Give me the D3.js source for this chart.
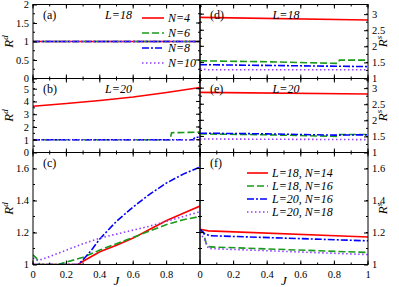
<!DOCTYPE html>
<html>
<head>
<meta charset="utf-8">
<script src="https://cdn.jsdelivr.net/npm/d3@7.9.0/dist/d3.min.js"></script>
<style>
  body { margin: 0; background: #fff; }
  text { font-family: "Liberation Serif", "DejaVu Serif", serif; }
</style>
</head>
<body>
<svg id="chart" width="399" height="287"></svg>
<script>
// series styles: N=4 / L=18,N=14 etc
const colors = ['#ff0000', '#1a9a1a', '#0000ff', '#8f3dff'];
const dashes = [null, '7,3', '7,2,2,2', '1.5,2.5'];

const legendA = ['N=4', 'N=6', 'N=8', 'N=10'];
const legendF = ['L=18, N=14', 'L=18, N=16', 'L=20, N=16', 'L=20, N=18'];

// panel (a) L=18
const aRed = [[0, 1], [1, 1]];
const aGreen = [[0, 1], [1, 1]];
const aBlue = [[0, 1], [1, 1]];
const aPurple = [[0, 1], [1, 1]];

// panel (b) L=20
const bRed = [[0, 3.62], [0.2, 3.84], [0.4, 4.08], [0.6, 4.35], [0.8, 4.7], [1, 5.1]];
const bGreen = [[0, 1], [0.82, 1], [0.83, 1.55], [1, 1.6]];
const bBlue = [[0, 1], [0.96, 1], [0.97, 1.2], [1, 1.2]];
const bPurple = [[0, 1], [1, 1]];

// panel (c)
const cRed = [[0, 1], [0.27, 1], [0.3, 1.02], [0.4, 1.08], [0.5, 1.12], [0.6, 1.165], [0.7, 1.22], [0.8, 1.275], [0.9, 1.32], [1, 1.365]];
const cGreen = [[0, 1.06], [0.02, 1.04], [0.04, 1], [0.15, 1], [0.2, 1.015], [0.3, 1.045], [0.4, 1.09], [0.5, 1.13], [0.6, 1.17], [0.7, 1.21], [0.8, 1.25], [0.9, 1.28], [1, 1.3]];
const cBlue = [[0, 1], [0.27, 1], [0.3, 1.03], [0.35, 1.09], [0.4, 1.16], [0.5, 1.27], [0.6, 1.36], [0.7, 1.44], [0.8, 1.51], [0.9, 1.565], [1, 1.61]];
const cPurple = [[0, 1.04], [0.03, 1.025], [0.1, 1.05], [0.2, 1.09], [0.3, 1.13], [0.4, 1.165], [0.5, 1.19], [0.6, 1.215], [0.7, 1.24], [0.8, 1.27], [0.9, 1.3], [1, 1.33]];

// panel (d) L=18
const dRed = [[0, 2.9], [1, 2.82]];
const dGreen = [[0, 1.55], [0.4, 1.52], [0.82, 1.47], [0.83, 1.57], [1, 1.57]];
const dBlue = [[0, 1.43], [0.5, 1.4], [1, 1.37]];
const dPurple = [[0, 1.3], [0.05, 1.27], [1, 1.27]];

// panel (e) L=20
const eRed = [[0, 2.87], [1, 2.82]];
const eGreen = [[0, 1.58], [0.4, 1.55], [0.82, 1.5], [0.83, 1.56], [1, 1.56]];
const eBlue = [[0, 1.6], [0.4, 1.58], [0.8, 1.54], [1, 1.55]];
const ePurple = [[0, 1.42], [1, 1.4]];

// panel (f)
const fRed = [[0, 1.22], [0.05, 1.21], [1, 1.172]];
const fGreen = [[0, 1.22], [0.02, 1.2], [0.04, 1.12], [0.06, 1.11], [1, 1.075]];
const fBlue = [[0, 1.22], [0.03, 1.19], [0.06, 1.18], [1, 1.148]];
const fPurple = [[0, 1.2], [0.03, 1.15], [0.05, 1.1], [1, 1.062]];

const xTicks = [0, 0.2, 0.4, 0.6, 0.8, 1];

const svg = d3.select('#chart');

const xL = d3.scaleLinear([0, 1], [33, 200]);
const xR = d3.scaleLinear([0, 1], [200, 368]);
const rows = [[4.5, 78.5], [78.5, 152.5], [152.5, 264.5]];

const panels = [
  { id: 'a', x: xL, row: 0, dom: [0, 2], ticks: [0, 0.5, 1, 1.5, 2], minor: 0.25, side: 'left', tag: '(a)', L: 'L=18', series: [aRed, aGreen, aBlue, aPurple] },
  { id: 'b', x: xL, row: 1, dom: [0, 5.8], ticks: [0, 1, 2, 3, 4, 5], minor: 0.5, side: 'left', tag: '(b)', L: 'L=20', series: [bRed, bGreen, bBlue, bPurple] },
  { id: 'c', x: xL, row: 2, dom: [1, 1.7], ticks: [1, 1.2, 1.4, 1.6], minor: 0.1, side: 'left', tag: '(c)', series: [cRed, cGreen, cBlue, cPurple], bottom: true },
  { id: 'd', x: xR, row: 0, dom: [1, 3.3], ticks: [1, 1.5, 2, 2.5, 3], minor: 0.25, side: 'right', tag: '(d)', L: 'L=18', series: [dRed, dGreen, dBlue, dPurple] },
  { id: 'e', x: xR, row: 1, dom: [1, 3.3], ticks: [1, 1.5, 2, 2.5, 3], minor: 0.25, side: 'right', tag: '(e)', L: 'L=20', series: [eRed, eGreen, eBlue, ePurple] },
  { id: 'f', x: xR, row: 2, dom: [1, 1.7], ticks: [1, 1.2, 1.4, 1.6], minor: 0.1, side: 'right', tag: '(f)', series: [fRed, fGreen, fBlue, fPurple], bottom: true }
];

panels.forEach(p => {
  const [y0, y1] = rows[p.row];
  const y = d3.scaleLinear(p.dom, [y1, y0]);
  const x = p.x;
  const [xa, xb] = x.range();
  const g = svg.append('g');

  g.append('clipPath').attr('id', 'clip-' + p.id)
    .append('rect').attr('x', xa).attr('y', y0).attr('width', xb - xa).attr('height', y1 - y0);

  const line = d3.line().x(d => x(d[0])).y(d => y(d[1]));
  const lines = g.append('g').attr('clip-path', `url(#clip-${p.id})`);
  p.series.forEach((s, i) => {
    lines.append('path')
      .attr('d', line(s))
      .attr('fill', 'none')
      .attr('stroke', colors[i])
      .attr('stroke-width', 1.6)
      .attr('stroke-dasharray', dashes[i]);
  });

  // minor ticks
  const yMinor = d3.range(p.dom[0], p.dom[1] + 1e-9, p.minor);
  const xMinor = d3.range(0, 1.0001, 0.1);

  // y axis on the label side, inward ticks
  const yAxis = (p.side === 'left' ? d3.axisLeft(y) : d3.axisRight(y))
    .tickValues(p.ticks).tickSize(-4).tickPadding(4)
    .tickFormat(d3.format('~g'));
  g.append('g').attr('transform', `translate(${p.side === 'left' ? xa : xb},0)`)
    .call(yAxis)
    .call(s => s.select('.domain').remove())
    .call(s => s.selectAll('text').attr('font-size', 10.5).attr('fill', '#000')
      .attr('font-family', '"Liberation Serif", serif'));

  // mirror ticks on the other side
  const ticksG = g.append('g').attr('stroke', '#000').attr('stroke-width', 1);
  const oppX = p.side === 'left' ? xb : xa;
  const dir = p.side === 'left' ? -1 : 1;
  p.ticks.forEach(t => {
    ticksG.append('line').attr('x1', oppX).attr('x2', oppX + dir * 4).attr('y1', y(t)).attr('y2', y(t));
  });
  yMinor.forEach(t => {
    const sideX = p.side === 'left' ? xa : xb;
    ticksG.append('line').attr('x1', sideX).attr('x2', sideX - dir * 2).attr('y1', y(t)).attr('y2', y(t));
    ticksG.append('line').attr('x1', oppX).attr('x2', oppX + dir * 2).attr('y1', y(t)).attr('y2', y(t));
  });
  xTicks.forEach(t => {
    ticksG.append('line').attr('x1', x(t)).attr('x2', x(t)).attr('y1', y0).attr('y2', y0 + 4);
    ticksG.append('line').attr('x1', x(t)).attr('x2', x(t)).attr('y1', y1).attr('y2', y1 - 4);
  });
  xMinor.forEach(t => {
    ticksG.append('line').attr('x1', x(t)).attr('x2', x(t)).attr('y1', y0).attr('y2', y0 + 2);
    ticksG.append('line').attr('x1', x(t)).attr('x2', x(t)).attr('y1', y1).attr('y2', y1 - 2);
  });

  g.append('rect').attr('x', xa).attr('y', y0).attr('width', xb - xa).attr('height', y1 - y0)
    .attr('fill', 'none').attr('stroke', '#000').attr('stroke-width', 1);

  if (p.bottom) {
    const labels = p.side === 'left' ? xTicks.slice(0, -1) : xTicks;
    g.selectAll('.xl').data(labels).join('text')
      .attr('x', d => x(d)).attr('y', y1 + 13)
      .attr('text-anchor', 'middle').attr('font-size', 10.5)
      .text(d3.format('~g'));
    g.append('text').attr('x', (xa + xb) / 2).attr('y', 285)
      .attr('text-anchor', 'middle').attr('font-size', 13).attr('font-style', 'italic')
      .text('J');
  }

  g.append('text').attr('x', xa + 10).attr('y', y0 + 14).attr('font-size', 12).text(p.tag);
  if (p.L) {
    g.append('text').attr('x', (xa + xb) / 2 + 2).attr('y', y0 + 14)
      .attr('text-anchor', 'middle').attr('font-size', 12).attr('font-style', 'italic').text(p.L);
  }

  // axis title
  const tx = p.side === 'left' ? 13 : 387;
  const t = g.append('text')
    .attr('transform', `translate(${tx},${(y0 + y1) / 2}) rotate(-90)`)
    .attr('text-anchor', 'middle').attr('font-size', 13).attr('font-style', 'italic');
  t.append('tspan').text('R');
  t.append('tspan').attr('dy', -5).attr('font-size', 9).text(p.side === 'left' ? 'd' : 's');
});

// legend (a)
const legA = svg.append('g');
legendA.forEach((name, i) => {
  const ly = 18 + i * 15;
  legA.append('line').attr('x1', 142).attr('x2', 164).attr('y1', ly).attr('y2', ly)
    .attr('stroke', colors[i]).attr('stroke-width', 1.6).attr('stroke-dasharray', dashes[i]);
  legA.append('text').attr('x', 168).attr('y', ly + 4).attr('font-size', 12)
    .attr('font-style', 'italic').text(name);
});

// legend (f)
const legF = svg.append('g');
legendF.forEach((name, i) => {
  const ly = 173 + i * 13;
  legF.append('line').attr('x1', 247).attr('x2', 268).attr('y1', ly).attr('y2', ly)
    .attr('stroke', colors[i]).attr('stroke-width', 1.6).attr('stroke-dasharray', dashes[i]);
  legF.append('text').attr('x', 272).attr('y', ly + 4).attr('font-size', 12)
    .attr('font-style', 'italic').text(name);
});
</script>
</body>
</html>
